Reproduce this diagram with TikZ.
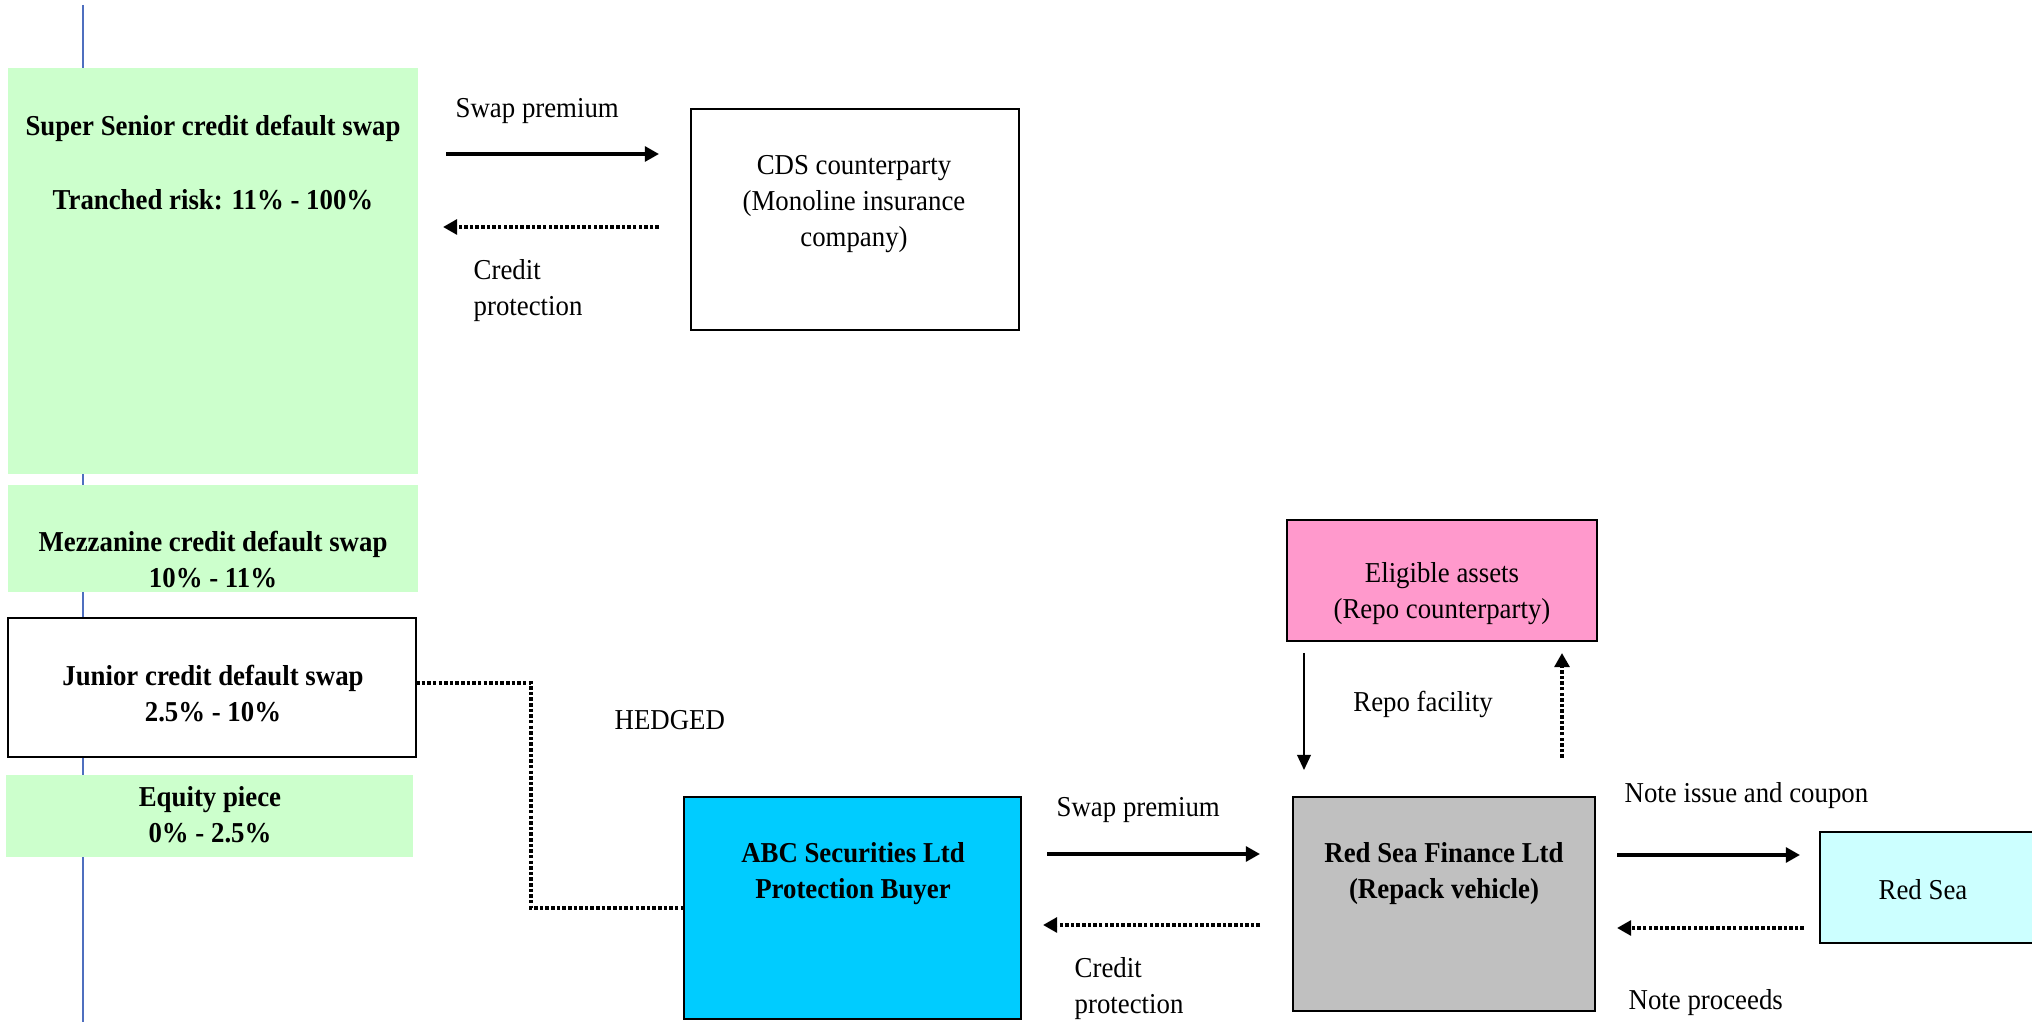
\documentclass[tikz,border=0pt]{standalone}
\usepackage{fontspec}
\setmainfont{Liberation Serif}[FakeStretch=0.93]
\usetikzlibrary{arrows.meta}
\definecolor{ssgreen}{HTML}{CCFFCC}
\definecolor{abcblue}{HTML}{00CCFF}
\definecolor{rsgray}{HTML}{C0C0C0}
\definecolor{elpink}{HTML}{FF99CC}
\definecolor{rscyan}{HTML}{CCFFFF}
\definecolor{axisblue}{HTML}{4F6FBF}
\begin{document}
\begin{tikzpicture}[x=0.01cm,y=-0.01cm,
  font=\fontsize{8.2}{10.24}\selectfont,
  box/.style={rectangle, inner sep=0pt, outer sep=0pt},
  framed/.style={box, draw=black, line width=0.6pt},
  txt/.style={inner sep=0pt, align=center, yshift=-0.8pt},
  btxt/.style={txt, font=\fontsize{8.2}{10.24}\selectfont\bfseries},
  ltxt/.style={inner sep=0pt, anchor=west, align=left, yshift=-0.8pt},
  flow/.style={line width=0.95pt, -{Triangle[length=4pt,width=4.2pt]}},
  back/.style={line width=1.05pt, dash pattern=on 1pt off 0.6pt, -{Triangle[length=4pt,width=4.2pt]}},
  thinflow/.style={line width=0.5pt, -{Triangle[length=4.3pt,width=3.9pt]}},
  hedge/.style={line width=1.05pt, dash pattern=on 1pt off 0.6pt}
]
\useasboundingbox (0,0) rectangle (2032,1022);

% vertical axis line
\coordinate (axTop) at (83,5);
\coordinate (axBot) at (83,1022);
\draw[axisblue, line width=0.35pt] (axTop) -- (axBot);

% tranche boxes
\node[box, fill=ssgreen, minimum width=4.10cm, minimum height=4.06cm] (ss) at (213,271) {};
\node[box, fill=ssgreen, minimum width=4.10cm, minimum height=1.07cm] (mz) at (213,538.5) {};
\node[framed, fill=white, minimum width=4.08cm, minimum height=1.39cm] (jr) at (212,687.5) {};
\node[box, fill=ssgreen, minimum width=4.07cm, minimum height=0.82cm] (eq) at (209.5,816) {};

\node[btxt] (ssA) at (213,126) {Super Senior credit default swap};
\node[btxt] (ssB) at (213,197) {Tranched risk: 11\% - 100\%};
\node[btxt] (mzT) at (213,557) {Mezzanine credit default swap\\10\% - 11\%};
\node[btxt] (jrT) at (213,691) {Junior credit default swap\\2.5\% - 10\%};
\node[btxt] (eqT) at (210,811.5) {Equity piece\\0\% - 2.5\%};

% other boxes
\node[framed, fill=white, minimum width=3.28cm, minimum height=2.21cm] (cds) at (855,219.5) {};
\node[txt] (cdsT) at (854,201) {CDS counterparty\\(Monoline insurance\\company)};

\node[framed, fill=abcblue, minimum width=3.37cm, minimum height=2.22cm] (abc) at (852.5,908) {};
\node[btxt] (abcT) at (853,871) {ABC Securities Ltd\\Protection Buyer};

\node[framed, fill=rsgray, minimum width=3.02cm, minimum height=2.14cm] (rsf) at (1444,904) {};
\node[btxt] (rsfT) at (1444,871) {Red Sea Finance Ltd\\(Repack vehicle)};

\node[framed, fill=elpink, minimum width=3.10cm, minimum height=1.21cm] (el) at (1442,580.5) {};
\node[txt] (elT) at (1442,591) {Eligible assets\\(Repo counterparty)};

\node[framed, fill=rscyan, minimum width=2.20cm, minimum height=1.11cm] (rs) at (1930,887.5) {};
\node[txt] (rsT) at (1923,887) {Red Sea};

% top arrows
\coordinate (tA1) at (446,154);
\coordinate (tA2) at (659,154);
\coordinate (tB1) at (659,227);
\coordinate (tB2) at (443,227);
\draw[flow] (tA1) -- (tA2);
\draw[back] (tB1) -- (tB2);
\node[ltxt] (lSwapTop) at (455,108) {Swap premium};
\node[ltxt] (lCredTop) at (473,288) {Credit\\protection};

% hedge connector
\coordinate (hA) at (416,683);
\coordinate (hB) at (531,683);
\coordinate (hC) at (531,908);
\coordinate (hD) at (684,908);
\draw[hedge] (hA) -- (hB) -- (hC) -- (hD);
\node[ltxt] (lHedged) at (614,717) {HEDGED};

% bottom arrows ABC <-> Red Sea Finance
\coordinate (bA1) at (1047,854);
\coordinate (bA2) at (1260,854);
\coordinate (bB1) at (1260,925);
\coordinate (bB2) at (1043,925);
\draw[flow] (bA1) -- (bA2);
\draw[back] (bB1) -- (bB2);
\node[ltxt] (lSwapBot) at (1056,807) {Swap premium};
\node[ltxt] (lCredBot) at (1074,986) {Credit\\protection};

% repo arrows
\coordinate (rA1) at (1304,653);
\coordinate (rA2) at (1304,770);
\coordinate (rB1) at (1562,758);
\coordinate (rB2) at (1562,653);
\draw[thinflow] (rA1) -- (rA2);
\draw[back] (rB1) -- (rB2);
\node[txt] (lRepo) at (1423,702) {Repo facility};

% note arrows
\coordinate (nA1) at (1617,855);
\coordinate (nA2) at (1800,855);
\coordinate (nB1) at (1804,928);
\coordinate (nB2) at (1617,928);
\draw[flow] (nA1) -- (nA2);
\draw[back] (nB1) -- (nB2);
\node[ltxt] (lNoteIss) at (1624,793) {Note issue and coupon};
\node[ltxt] (lNoteProc) at (1628,1000) {Note proceeds};
\end{tikzpicture}
\end{document}
